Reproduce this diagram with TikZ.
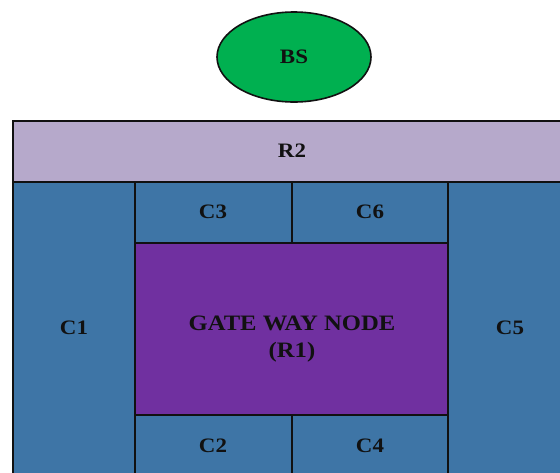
\documentclass[tikz,border=0pt]{standalone}
\usepackage{fontspec}
\setmainfont{Liberation Serif}
\newfontfamily\widefont[FakeStretch=1.12]{Liberation Serif}
\usetikzlibrary{shapes.geometric}
\definecolor{rtwo}{HTML}{B6A9CB}
\definecolor{cell}{HTML}{3E75A6}
\definecolor{gate}{HTML}{7030A0}
\definecolor{bsgreen}{HTML}{00B050}
\definecolor{ink}{HTML}{111111}
\tikzset{
  box/.style={draw=ink, line width=1.6pt},
  lbl/.style={font=\widefont\fontsize{20.5}{24}\selectfont\bfseries, text=ink, align=center},
}
\begin{document}
\begin{tikzpicture}[x=1pt,y=-1pt]
\useasboundingbox (0,0) rectangle (560,472);
\clip (0,0) rectangle (560,472);
% base station
\node[ellipse, draw=ink, line width=1.6pt, fill=bsgreen, minimum width=154pt, minimum height=90pt] (bs) at (294,57) {};
\node[lbl] (bst) at (bs.center) {BS};
% R2
\draw[box, fill=rtwo] (13,121) rectangle (580,182);
\node[lbl] (r2) at (292,151) {R2};
% C1, C5
\draw[box, fill=cell] (13,182) rectangle (135,490);
\draw[box, fill=cell] (448,182) rectangle (580,490);
\node[lbl] (c1) at (74,328) {C1};
\node[lbl] (c5) at (510,328) {C5};
% C3, C6
\draw[box, fill=cell] (135,182) rectangle (292,243);
\draw[box, fill=cell] (292,182) rectangle (448,243);
\node[lbl] (c3) at (213,212) {C3};
\node[lbl] (c6) at (370,212) {C6};
% gateway
\draw[box, fill=gate] (135,243) rectangle (448,415);
\node[lbl, font=\widefont\fontsize{22}{27}\selectfont\bfseries] (gw) at (292,339) {GATE WAY NODE\\(R1)};
% C2, C4
\draw[box, fill=cell] (135,415) rectangle (292,490);
\draw[box, fill=cell] (292,415) rectangle (448,490);
\node[lbl] (c2) at (213,446) {C2};
\node[lbl] (c4) at (370,446) {C4};
\end{tikzpicture}
\end{document}
